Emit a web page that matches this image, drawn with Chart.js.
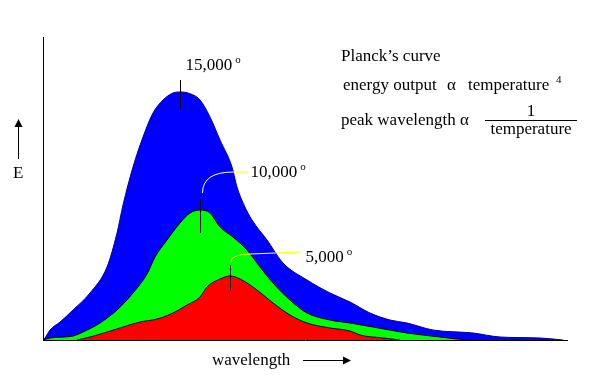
<!DOCTYPE html>
<html>
<head>
<meta charset="utf-8">
<script src="https://cdn.jsdelivr.net/npm/chart.js@4/dist/chart.umd.min.js"></script>
<style>
  html, body { margin: 0; padding: 0; background: #fff; }
</style>
</head>
<body>
<canvas id="planckChart" width="607" height="392"></canvas>
<script>
// wavelength (x) / energy (y) in arbitrary units
const hotX  = [0, 2, 7, 17, 30, 47, 64, 74, 80, 90, 100, 110, 120, 130, 137, 145, 157, 167, 177, 189, 194, 201, 209, 224, 240, 264, 287, 307, 327, 347, 364, 390, 430, 457, 497, 520];
const hotY  = [0, 2, 10, 18, 30, 47, 73, 107, 135, 173, 203, 227, 240, 247, 248, 247, 240, 223, 200, 173, 153, 135, 120, 100, 77, 60, 47, 38, 27, 20, 17, 10, 7, 3, 2, 0];

const midX  = [0, 7, 30, 40, 57, 74, 90, 104, 112, 124, 137, 147, 157, 167, 177, 190, 204, 217, 230, 247, 264, 287, 307, 330, 364, 397, 414, 427];
const midY  = [0, 2, 4, 8, 17, 30, 47, 66, 83, 100, 117, 127, 130, 127, 113, 103, 90, 73, 57, 40, 27, 20, 17, 13, 7, 3, 1, 0];

const coolX = [34, 47, 64, 80, 97, 114, 130, 144, 157, 164, 177, 187, 197, 214, 230, 247, 264, 287, 307, 317, 340, 357];
const coolY = [0, 3, 8, 13, 18, 21, 27, 35, 43, 53, 61, 64, 61, 50, 37, 25, 17, 12, 9, 5, 2, 0];

const tempLabels = ["15,000", "10,000", "5,000"];

function pairs(xs, ys) {
  return xs.map((x, i) => ({ x: x, y: ys[i] }));
}

const serif = "'Liberation Serif', 'Times New Roman', serif";

function arrowHead(ctx, x, y, dir) {
  ctx.beginPath();
  if (dir === "up") {
    ctx.moveTo(x, y); ctx.lineTo(x - 4, y + 8); ctx.lineTo(x + 4, y + 8);
  } else {
    ctx.moveTo(x, y); ctx.lineTo(x - 8, y - 4); ctx.lineTo(x - 8, y + 4);
  }
  ctx.closePath();
  ctx.fill();
}

// peak markers, leader lines and all the text
const notes = {
  id: "notes",
  afterDatasetsDraw(chart) {
    const ctx = chart.ctx;
    const sx = chart.scales.x, sy = chart.scales.y;
    const series = [[hotX, hotY], [midX, midY], [coolX, coolY]];
    const peaks = series.map(([xs, ys]) => {
      const i = ys.indexOf(Math.max(...ys));
      return { x: Math.round(sx.getPixelForValue(xs[i])) + 0.5, y: sy.getPixelForValue(ys[i]) };
    });

    ctx.save();
    ctx.strokeStyle = "#000";
    ctx.lineWidth = 1;
    const marks = [[-12, 18], [-10, 23], [-11, 14]];
    peaks.forEach((p, i) => {
      ctx.beginPath();
      ctx.moveTo(p.x, p.y + marks[i][0]);
      ctx.lineTo(p.x, p.y + marks[i][1]);
      ctx.stroke();
    });

    // leaders: yellow, turning white where they cross the blue fill
    ctx.globalCompositeOperation = "lighter";
    ctx.strokeStyle = "#ffff00";
    let p = peaks[1];
    ctx.beginPath();
    ctx.moveTo(p.x + 2, p.y - 17);
    ctx.quadraticCurveTo(p.x + 2, p.y - 38, p.x + 33, p.y - 38);
    ctx.lineTo(p.x + 48, p.y - 38);
    ctx.stroke();
    p = peaks[2];
    ctx.beginPath();
    ctx.moveTo(p.x, p.y - 14);
    ctx.quadraticCurveTo(p.x + 1, p.y - 22, p.x + 20, p.y - 22);
    ctx.lineTo(p.x + 70, p.y - 24);
    ctx.stroke();
    ctx.globalCompositeOperation = "source-over";
    ctx.strokeStyle = "#000";

    ctx.fillStyle = "#000";
    ctx.textBaseline = "alphabetic";
    const labelPos = [[5, -22], [50, -33], [75, -14]];
    peaks.forEach((pk, i) => {
      const lx = pk.x + labelPos[i][0], ly = pk.y + labelPos[i][1];
      ctx.font = "17px " + serif;
      ctx.fillText(tempLabels[i], lx, ly);
      const w = ctx.measureText(tempLabels[i]).width;
      ctx.font = "11px " + serif;
      ctx.fillText("o", lx + w + 3, ly - 7);
    });

    // formula block
    ctx.font = "17px " + serif;
    ctx.fillText("Planck\u2019s curve", 341, 61);
    ctx.fillText("energy output", 343, 90);
    ctx.fillText("\u03b1", 447, 90);
    ctx.fillText("temperature", 468, 90);
    ctx.font = "11px " + serif;
    ctx.fillText("4", 556, 83);
    ctx.font = "17px " + serif;
    ctx.fillText("peak wavelength \u03b1", 341, 125);
    ctx.textAlign = "center";
    ctx.fillText("1", 531, 116);
    ctx.fillText("temperature", 531, 134);
    ctx.textAlign = "left";
    ctx.beginPath();
    ctx.moveTo(485, 120.5);
    ctx.lineTo(577, 120.5);
    ctx.stroke();

    // axis names
    ctx.fillText("E", 13, 178);
    ctx.beginPath();
    ctx.moveTo(18.5, 159);
    ctx.lineTo(18.5, 126);
    ctx.stroke();
    arrowHead(ctx, 18.5, 119, "up");

    ctx.fillText("wavelength", 212, 365);
    ctx.beginPath();
    ctx.moveTo(303, 360.5);
    ctx.lineTo(344, 360.5);
    ctx.stroke();
    arrowHead(ctx, 351, 360.5, "right");
    ctx.restore();
  }
};

new Chart(document.getElementById("planckChart"), {
  type: "line",
  data: {
    datasets: [
      {
        label: "15,000",
        data: pairs(hotX, hotY),
        backgroundColor: "#0000ff",
        borderColor: "#00008b",
        borderWidth: 1,
        fill: "origin",
        order: 3
      },
      {
        label: "10,000",
        data: pairs(midX, midY),
        backgroundColor: "#00ff00",
        borderColor: "#000",
        borderWidth: 1,
        fill: "origin",
        order: 2
      },
      {
        label: "5,000",
        data: pairs(coolX, coolY),
        backgroundColor: "#ff0000",
        borderColor: "#000",
        borderWidth: 1,
        fill: "origin",
        order: 1
      }
    ]
  },
  options: {
    responsive: false,
    animation: false,
    layout: { padding: { left: 43, top: 37, right: 40, bottom: 52 } },
    elements: {
      point: { radius: 0 },
      line: { tension: 0.3, cubicInterpolationMode: "monotone" }
    },
    plugins: {
      legend: { display: false },
      tooltip: { enabled: false }
    },
    scales: {
      x: {
        type: "linear",
        min: 0,
        max: 524,
        grid: { display: false, drawTicks: false },
        ticks: { display: false },
        border: { display: true, color: "#000", width: 1 },
        afterFit(s) { s.height = 0; }
      },
      y: {
        min: 0,
        max: 303,
        grid: { display: false, drawTicks: false },
        ticks: { display: false },
        border: { display: true, color: "#000", width: 1 },
        afterFit(s) { s.width = 0; }
      }
    }
  },
  plugins: [notes]
});
</script>
</body>
</html>
